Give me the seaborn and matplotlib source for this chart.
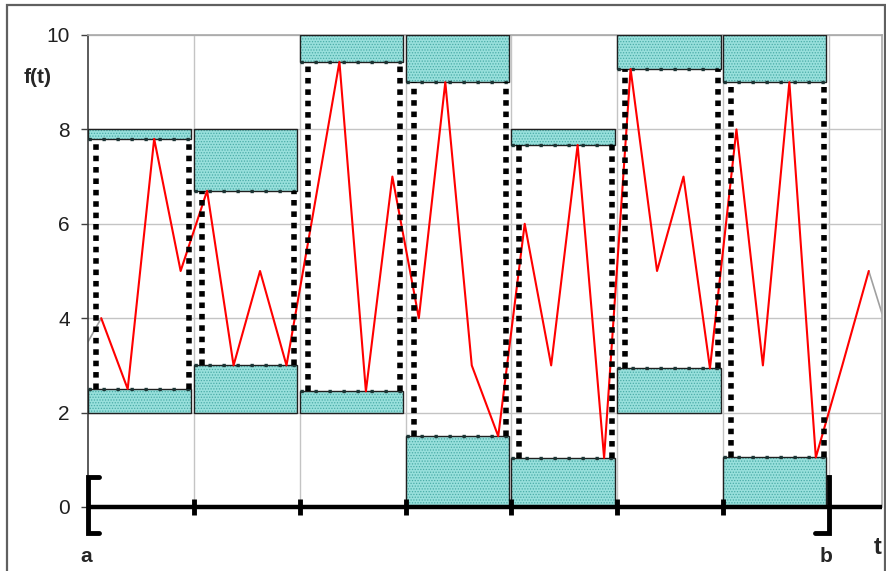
import numpy as np
import pandas as pd
import matplotlib
matplotlib.use("Agg")
import matplotlib.pyplot as plt
from matplotlib.patches import Rectangle
import seaborn as sns

# Function samples f(t_i) on a 30-point grid (t_i at the middle of each cell)
f_values = [4, 2.5, 7.8, 5,
            6.7, 3, 5, 3,
            6.2, 9.43, 2.45, 7,
            4, 9.0, 3, 1.5,
            6, 3, 7.67, 1.04,
            9.28, 5, 7, 2.94,
            8, 3, 9.0, 1.05,
            3, 5]
# Function continued outside the sampled range (left and right edges)
edge_left = (0.0, 3.5)
edge_right = (30.0, 4.1)
# Partition of [a, b] into sub-intervals of 4 samples each
n_sub = 7
samples_per_sub = 4
y_ticks = [0, 2, 4, 6, 8, 10]

t = np.arange(len(f_values)) + 0.5
df = pd.DataFrame({"t": t, "f": f_values})

sns.set_theme(style="white")
plt.rcParams["font.family"] = ["Liberation Sans", "DejaVu Sans"]
plt.rcParams["hatch.linewidth"] = 0.6

fig = plt.figure(figsize=(8.86, 5.71), dpi=100)
ax = fig.add_axes([88 / 886, 64 / 571, 794 / 886, 472 / 571])
ax.set_xlim(0, 30)
ax.set_ylim(0, 10)

# grid
ax.set_xticks(range(4, 29, 4))
ax.set_xticklabels([])
ax.tick_params(axis="x", length=0)
ax.set_yticks(y_ticks)
ax.set_yticklabels([str(v) for v in y_ticks], fontsize=15, color="#202020")
ax.tick_params(axis="y", direction="out", length=5, width=1, color="#404040", pad=8, left=True)
ax.grid(True, color="#c4c4c4", lw=1)
ax.set_axisbelow(True)
for side in ("top", "right"):
    ax.spines[side].set_color("#a8a8a8")
    ax.spines[side].set_linewidth(1.2)
ax.spines["left"].set_color("#404040")
ax.spines["left"].set_linewidth(1.2)
ax.spines["bottom"].set_visible(False)

# function outside the sampled points (grey)
ax.plot([edge_left[0], t[0]], [edge_left[1], f_values[0]], color="#a0a0a0", lw=1.2, zorder=2)
ax.plot([t[-1], edge_right[0]], [f_values[-1], edge_right[1]], color="#a0a0a0", lw=1.2, zorder=2)

# lower / upper sums per sub-interval
fill_c = "#98e0dc"
hatch_c = "#4aaca7"
for k in range(n_sub):
    seg = f_values[k * samples_per_sub:(k + 1) * samples_per_sub]
    lo, hi = min(seg), max(seg)
    lo_base = 2 * np.floor(lo / 2)
    hi_top = 2 * np.ceil(hi / 2)
    x0 = k * samples_per_sub
    w = samples_per_sub - 0.1
    for bottom, height in ((lo_base, lo - lo_base), (hi, hi_top - hi)):
        ax.bar(x0, height, bottom=bottom, width=w, align="edge",
               color=fill_c, edgecolor="none", lw=0, zorder=3)
        ax.bar(x0, height, bottom=bottom, width=w, align="edge",
               color="none", edgecolor=hatch_c, hatch="......", lw=0, zorder=3)
        ax.bar(x0, height, bottom=bottom, width=w, align="edge",
               color="none", edgecolor="#202020", lw=1, zorder=3)
    # dotted rectangle between lower and upper value
    xl, xr = x0 + 0.3, x0 + 3.8
    for yv in (lo, hi):
        ax.plot([x0, x0 + w], [yv, yv], color="#1c3434", lw=2.4,
                linestyle=(0, (1, 3.2)), dash_capstyle="butt", zorder=4)
    for xv in (xl, xr):
        ax.plot([xv, xv], [lo, hi], color="black", lw=4.0,
                linestyle=(0, (1, 1.05)), dash_capstyle="butt", zorder=6)

# the function itself
sns.lineplot(data=df, x="t", y="f", color="#ff0000", lw=1.5, ax=ax, zorder=5)
ax.set_xlabel("")
ax.set_ylabel("")

# t axis, sub-interval ticks and the brackets of [a, b]
ax.plot([0, 30], [0, 0], color="black", lw=3.2, clip_on=False, zorder=7,
        solid_capstyle="butt")
for xv in range(4, 28, 4):
    ax.plot([xv, xv], [-0.16, 0.16], color="black", lw=3.5, clip_on=False, zorder=7,
            solid_capstyle="butt")
ax.plot([0.42, 0, 0, 0.42], [0.64, 0.64, -0.55, -0.55], color="black", lw=3.5,
        clip_on=False, zorder=7, solid_joinstyle="miter")
ax.plot([27.45, 28, 28, 27.45], [0.64, 0.64, -0.55, -0.55], color="black", lw=3.5,
        clip_on=False, zorder=2.5, solid_joinstyle="miter")

# labels
fig.text(38 / 886, 1 - 77 / 571, "f(t)", fontsize=15, fontweight="bold",
         ha="center", va="center")
fig.text(86 / 886, 1 - 557 / 571, "a", fontsize=15, fontweight="bold",
         ha="center", va="center")
fig.text(826 / 886, 1 - 556 / 571, "b", fontsize=15, fontweight="bold",
         ha="center", va="center")
fig.text(878 / 886, 1 - 547 / 571, "t", fontsize=17, fontweight="bold",
         ha="center", va="center")

# outer frame
fig.patches.append(Rectangle((7 / 886, -0.05), (885 - 7) / 886, 566 / 571 + 0.05,
                             transform=fig.transFigure, fill=False,
                             ec="#606060", lw=1.6))

fig.savefig("out.png", dpi=100)
